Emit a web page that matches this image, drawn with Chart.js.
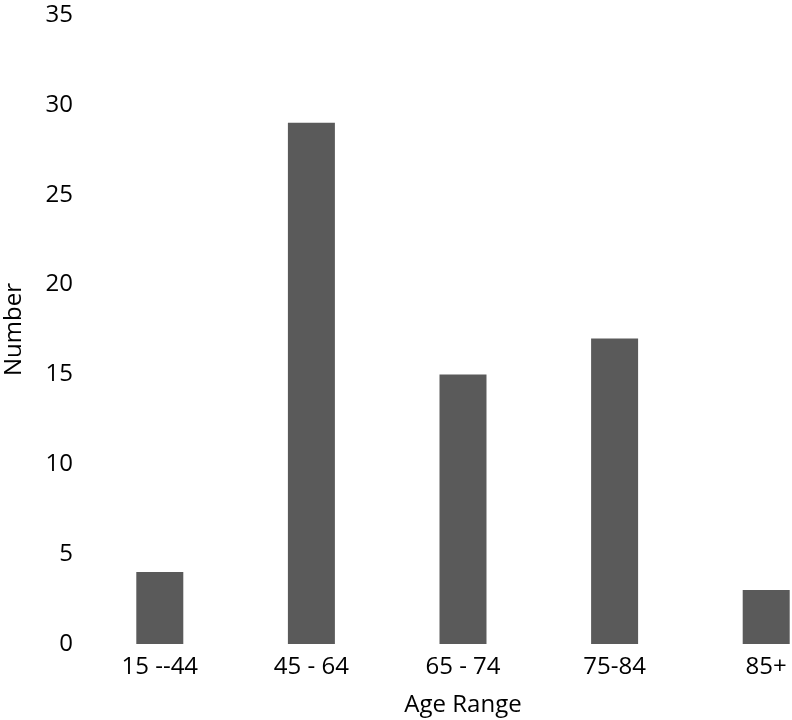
<!DOCTYPE html>
<html>
<head>
<meta charset="utf-8">
<script src="https://cdn.jsdelivr.net/npm/chart.js@4/dist/chart.umd.min.js"></script>
<style>
html,body{margin:0;padding:0;background:#fff;overflow:hidden;width:792px;height:720px;}
#c{display:block;}
</style>
</head>
<body>
<canvas id="c" width="842" height="720"></canvas>
<script>
const categories = ["15 --44", "45 - 64", "65 - 74", "75-84", "85+"];
const counts = [4, 29, 15, 17, 3];
const yTicks = [0, 5, 10, 15, 20, 25, 30, 35];

const font = "'Open Sans', 'Liberation Sans', sans-serif";
new Chart(document.getElementById('c'), {
  type: 'bar',
  data: {
    labels: categories,
    datasets: [{
      data: counts,
      backgroundColor: '#5a5a5a',
      categoryPercentage: 1,
      barPercentage: 0.31
    }]
  },
  options: {
    responsive: false,
    animation: false,
    devicePixelRatio: 1,
    layout: { padding: { top: 15, left: 0, right: 0, bottom: 0 } },
    plugins: { legend: { display: false }, tooltip: { enabled: false } },
    scales: {
      x: {
        afterFit: s => { s.height = 76; s.paddingLeft = 0; s.paddingRight = 0; },
        grid: { display: false, drawTicks: false },
        border: { display: false },
        ticks: { color: '#000', font: { family: font, size: 24 }, padding: 9, maxRotation: 0 },
        title: { display: true, text: 'Age Range', color: '#000', font: { family: font, size: 24 }, padding: { top: 2, bottom: 0 } }
      },
      y: {
        min: 0, max: 35,
        afterBuildTicks: s => { s.ticks = yTicks.map(v => ({ value: v })); },
        afterFit: s => { s.width = 84; s.paddingTop = 0; s.paddingBottom = 0; },
        grid: { display: false, drawTicks: false },
        border: { display: false },
        ticks: { color: '#000', font: { family: font, size: 24 }, padding: 11 },
        title: { display: true, text: 'Number', color: '#000', font: { family: font, size: 24 }, padding: { top: 0, bottom: 4 } }
      }
    }
  }
});
</script>
</body>
</html>
